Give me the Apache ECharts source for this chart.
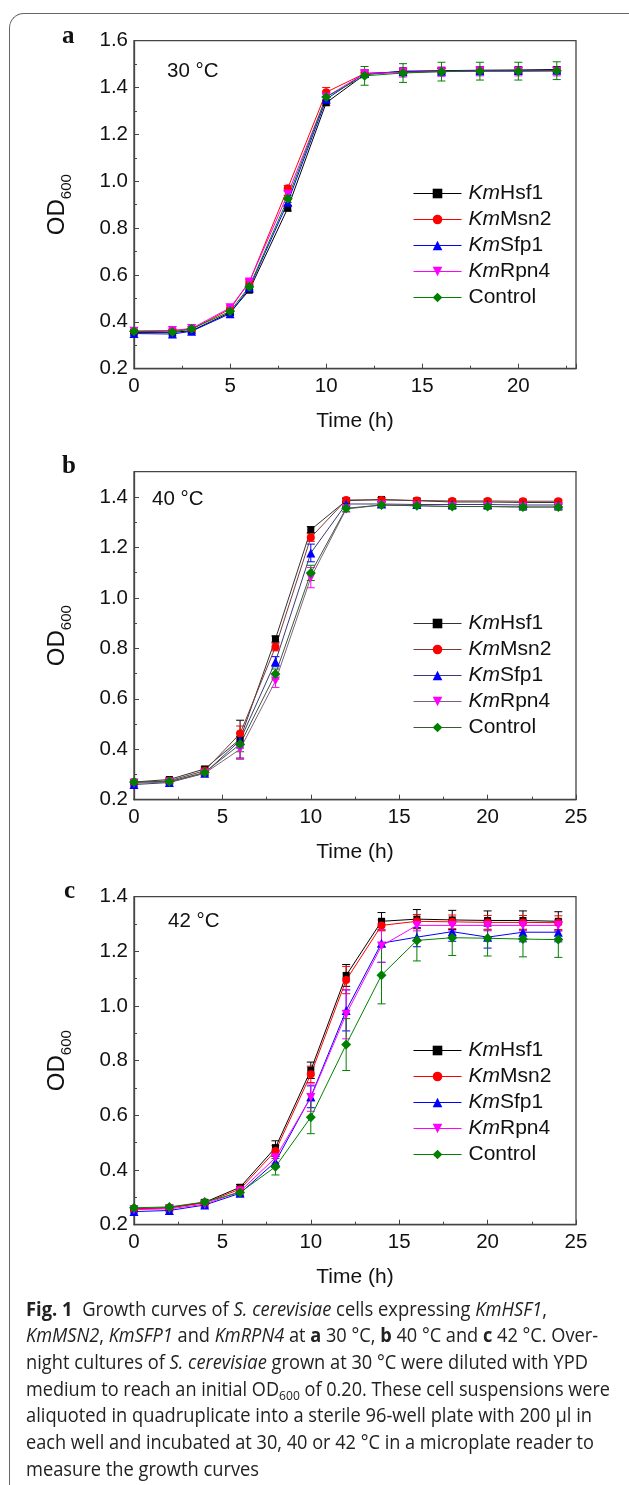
<!DOCTYPE html>
<html>
<head>
<meta charset="utf-8">
<script src="https://cdn.jsdelivr.net/npm/echarts@6/dist/echarts.min.js"></script>
<style>
  html, body { margin: 0; padding: 0; background: #fff; }
  #page { position: relative; width: 629px; height: 1485px; overflow: hidden; }
  #frame { position: absolute; left: 9px; top: 13px; width: 700px; height: 1520px;
    border-left: 1.5px solid #666; border-top: 1.5px solid #666; border-top-left-radius: 15px; }
  #chart { position: absolute; left: 0; top: 0; width: 629px; height: 1485px; }
  .cap { position: absolute; left: 26px; height: 27px; line-height: 27px; white-space: nowrap;
    font-family: "Open Sans", "Noto Sans", sans-serif; font-size: 19.5px; color: #222;
    transform-origin: 0 50%; }
  .cap b { font-weight: 700; }
  .cap sub { font-size: 13px; vertical-align: -4px; line-height: 0; }
</style>
</head>
<body>
<div id="page">
  <div id="frame"></div>
  <div id="chart"></div>
  <div class="cap" data-w="521"><b>Fig. 1</b>&nbsp; Growth curves of <i>S. cerevisiae</i> cells expressing <i>KmHSF1</i>,</div>
  <div class="cap" data-w="572"><i>KmMSN2</i>, <i>KmSFP1</i> and <i>KmRPN4</i> at <b>a</b> 30 °C, <b>b</b> 40 °C and <b>c</b> 42 °C. Over-</div>
  <div class="cap" data-w="562">night cultures of <i>S. cerevisiae</i> grown at 30 °C were diluted with YPD</div>
  <div class="cap" data-w="584">medium to reach an initial OD<sub>600</sub> of 0.20. These cell suspensions were</div>
  <div class="cap" data-w="566">aliquoted in quadruplicate into a sterile 96-well plate with 200 µl in</div>
  <div class="cap" data-w="568">each well and incubated at 30, 40 or 42 °C in a microplate reader to</div>
  <div class="cap" data-w="233">measure the growth curves</div>
</div>
<script>
// ---- data ----
const names = ["KmHsf1", "KmMsn2", "KmSfp1", "KmRpn4", "Control"];
const temps = ["30 °C", "40 °C", "42 °C"];
const letters = ["a", "b", "c"];

const timeA = [0, 2, 3, 5, 6, 8, 10, 12, 14, 16, 18, 20, 22];
const hsf1A = [0.355, 0.355, 0.362, 0.440, 0.535, 0.885, 1.335, 1.455, 1.470, 1.472, 1.474, 1.475, 1.477];
const msn2A = [0.360, 0.363, 0.368, 0.455, 0.570, 0.970, 1.380, 1.460, 1.465, 1.470, 1.472, 1.472, 1.473];
const sfp1A = [0.350, 0.348, 0.360, 0.435, 0.545, 0.910, 1.350, 1.460, 1.468, 1.470, 1.472, 1.473, 1.474];
const rpn4A = [0.360, 0.363, 0.372, 0.460, 0.570, 0.945, 1.360, 1.460, 1.465, 1.468, 1.470, 1.470, 1.470];
const ctrlA = [0.360, 0.357, 0.370, 0.445, 0.550, 0.925, 1.360, 1.450, 1.462, 1.468, 1.470, 1.470, 1.472];
const errHsf1A = [0.005, 0.005, 0.006, 0.008, 0.010, 0.012, 0.010, 0.008, 0.010, 0.010, 0.010, 0.010, 0.010];
const errMsn2A = [0.005, 0.006, 0.006, 0.008, 0.010, 0.012, 0.020, 0.010, 0.010, 0.010, 0.010, 0.010, 0.010];
const errSfp1A = [0.006, 0.008, 0.010, 0.008, 0.010, 0.015, 0.010, 0.012, 0.012, 0.012, 0.012, 0.012, 0.012];
const errRpn4A = [0.005, 0.006, 0.008, 0.010, 0.012, 0.015, 0.012, 0.015, 0.020, 0.020, 0.020, 0.020, 0.020];
const errCtrlA = [0.006, 0.008, 0.010, 0.010, 0.012, 0.015, 0.025, 0.040, 0.040, 0.040, 0.038, 0.038, 0.038];

const timeB = [0, 2, 4, 6, 8, 10, 12, 14, 16, 18, 20, 22, 24];
const hsf1B = [0.270, 0.280, 0.322, 0.440, 0.837, 1.270, 1.385, 1.390, 1.385, 1.380, 1.380, 1.378, 1.378];
const msn2B = [0.268, 0.275, 0.315, 0.462, 0.805, 1.239, 1.388, 1.388, 1.386, 1.384, 1.384, 1.383, 1.383];
const sfp1B = [0.260, 0.268, 0.305, 0.435, 0.747, 1.178, 1.372, 1.372, 1.370, 1.370, 1.370, 1.368, 1.368];
const rpn4B = [0.265, 0.270, 0.305, 0.400, 0.670, 1.080, 1.352, 1.368, 1.365, 1.362, 1.362, 1.360, 1.360];
const ctrlB = [0.270, 0.272, 0.308, 0.420, 0.698, 1.099, 1.355, 1.368, 1.365, 1.362, 1.362, 1.360, 1.360];
const errHsf1B = [0.008, 0.006, 0.008, 0.075, 0.012, 0.012, 0.008, 0.008, 0.008, 0.008, 0.008, 0.008, 0.008];
const errMsn2B = [0.006, 0.006, 0.008, 0.030, 0.015, 0.015, 0.008, 0.008, 0.008, 0.008, 0.008, 0.008, 0.008];
const errSfp1B = [0.006, 0.006, 0.008, 0.030, 0.020, 0.035, 0.010, 0.010, 0.010, 0.010, 0.010, 0.010, 0.010];
const errRpn4B = [0.006, 0.006, 0.008, 0.040, 0.025, 0.040, 0.012, 0.010, 0.010, 0.010, 0.010, 0.012, 0.012];
const errCtrlB = [0.006, 0.006, 0.008, 0.030, 0.020, 0.030, 0.012, 0.010, 0.010, 0.010, 0.010, 0.012, 0.012];

const timeC = [0, 2, 4, 6, 8, 10, 12, 14, 16, 18, 20, 22, 24];
const hsf1C = [0.258, 0.262, 0.282, 0.337, 0.482, 0.765, 1.112, 1.310, 1.318, 1.315, 1.313, 1.313, 1.310];
const msn2C = [0.258, 0.262, 0.280, 0.330, 0.470, 0.750, 1.095, 1.295, 1.310, 1.308, 1.306, 1.306, 1.305];
const sfp1C = [0.248, 0.252, 0.272, 0.315, 0.430, 0.668, 0.984, 1.230, 1.252, 1.272, 1.252, 1.270, 1.270];
const rpn4C = [0.255, 0.258, 0.275, 0.322, 0.445, 0.665, 0.970, 1.220, 1.295, 1.295, 1.295, 1.295, 1.295];
const ctrlC = [0.262, 0.265, 0.283, 0.318, 0.412, 0.593, 0.859, 1.113, 1.240, 1.250, 1.248, 1.245, 1.243];
const errHsf1C = [0.005, 0.005, 0.008, 0.010, 0.025, 0.030, 0.040, 0.032, 0.035, 0.035, 0.035, 0.035, 0.035];
const errMsn2C = [0.005, 0.005, 0.008, 0.010, 0.020, 0.030, 0.050, 0.020, 0.025, 0.025, 0.025, 0.025, 0.025];
const errSfp1C = [0.005, 0.005, 0.008, 0.010, 0.020, 0.040, 0.075, 0.070, 0.035, 0.035, 0.040, 0.035, 0.035];
const errRpn4C = [0.005, 0.005, 0.008, 0.012, 0.020, 0.050, 0.090, 0.060, 0.020, 0.020, 0.020, 0.020, 0.020];
const errCtrlC = [0.005, 0.005, 0.008, 0.012, 0.030, 0.060, 0.095, 0.105, 0.075, 0.065, 0.065, 0.065, 0.065];

const xMax = [23, 25, 25];
const yMax = [1.6, 1.5, 1.4];

// ---- styles ----
const colors = ["#000000", "#ff0000", "#0000ff", "#ff00ff", "#008000"];
const linesB = ["#333333", "#7a3a3a", "#3a3a7a", "#806080", "#3a5a3a"];
const symbols = ["rect", "circle", "triangle", "path://M0,0 L10,0 L5,9 Z", "diamond"];
const symbolSizes = [7, 8, 9, 9, 10];
const FONT = '"Liberation Sans", Arial, sans-serif';
const gridTops = [40.7, 471.7, 896.7];

const panels = [
  { t: timeA, y: [hsf1A, msn2A, sfp1A, rpn4A, ctrlA], e: [errHsf1A, errMsn2A, errSfp1A, errRpn4A, errCtrlA] },
  { t: timeB, y: [hsf1B, msn2B, sfp1B, rpn4B, ctrlB], e: [errHsf1B, errMsn2B, errSfp1B, errRpn4B, errCtrlB] },
  { t: timeC, y: [hsf1C, msn2C, sfp1C, rpn4C, ctrlC], e: [errHsf1C, errMsn2C, errSfp1C, errRpn4C, errCtrlC] },
];

function errorBars(color) {
  return function (params, api) {
    const x = api.value(0);
    const top = api.coord([x, api.value(2)]);
    const bot = api.coord([x, api.value(1)]);
    const w = 4;
    const st = { stroke: color, lineWidth: 1 };
    return {
      type: "group",
      children: [
        { type: "line", shape: { x1: top[0], y1: top[1], x2: bot[0], y2: bot[1] }, style: st },
        { type: "line", shape: { x1: top[0] - w, y1: top[1], x2: top[0] + w, y2: top[1] }, style: st },
        { type: "line", shape: { x1: bot[0] - w, y1: bot[1], x2: bot[0] + w, y2: bot[1] }, style: st },
      ],
    };
  };
}

const grids = [], xAxes = [], yAxes = [], series = [], legends = [], graphics = [];

panels.forEach((p, k) => {
  grids.push({ left: 134, top: gridTops[k], width: 442, height: 328, show: true, borderColor: "#444", borderWidth: 1.3 });
  xAxes.push({
    type: "value", gridIndex: k, min: 0, max: xMax[k], interval: 5,
    name: "Time (h)", nameLocation: "middle", nameGap: 42,
    nameTextStyle: { fontFamily: FONT, fontSize: 21, color: "#111" },
    axisLine: { lineStyle: { color: "#444", width: 1.3 } },
    axisTick: { inside: true, length: 5, lineStyle: { color: "#444" } },
    minorTick: { show: true, splitNumber: 2, length: 3, lineStyle: { color: "#444" } },
    splitLine: { show: false },
    axisLabel: { fontFamily: FONT, fontSize: 20.5, color: "#111", margin: 7, showMaxLabel: k > 0 },
  });
  yAxes.push({
    type: "value", gridIndex: k, min: 0.2, max: yMax[k], interval: 0.2,
    name: "{b|OD}{s|600}", nameLocation: "middle", nameGap: 60,
    nameTextStyle: {
      fontFamily: FONT, color: "#111",
      rich: {
        b: { fontFamily: FONT, fontSize: 24, color: "#111", verticalAlign: "bottom", lineHeight: 24, padding: [0, 0, 5, 0] },
        s: { fontFamily: FONT, fontSize: 15, color: "#111", verticalAlign: "bottom", lineHeight: 15 },
      },
    },
    axisLine: { lineStyle: { color: "#444", width: 1.3 } },
    axisTick: { inside: true, length: 5, lineStyle: { color: "#444" } },
    minorTick: { show: true, splitNumber: 2, length: 3, lineStyle: { color: "#444" } },
    splitLine: { show: false },
    axisLabel: {
      fontFamily: FONT, fontSize: 20.5, color: "#111", margin: 6, showMaxLabel: k !== 1,
      formatter: (v) => v.toFixed(1),
    },
  });

  names.forEach((nm, i) => {
    const pts = p.t.map((t, j) => [t, p.y[i][j]]);
    const bars = p.t.map((t, j) => [t, p.y[i][j] - p.e[i][j], p.y[i][j] + p.e[i][j]]);
    series.push({
      type: "custom", xAxisIndex: k, yAxisIndex: k, z: 2,
      renderItem: errorBars(colors[i]), encode: { x: 0, y: [1, 2] }, data: bars, silent: true,
    });
    series.push({
      type: "line", name: nm, xAxisIndex: k, yAxisIndex: k, z: 3,
      data: pts, symbol: symbols[i], symbolSize: symbolSizes[i],
      lineStyle: { color: k === 1 ? linesB[i] : colors[i], width: 1 },
      itemStyle: { color: colors[i] },
    });
  });

  const legendTops = [178, 608, 1035];
  legends.push({
    left: 408, top: legendTops[k], orient: "vertical", itemWidth: 48, itemHeight: 12, itemGap: 5,
    data: names.map((nm, i) => ({
      name: nm,
      lineStyle: { color: k === 1 ? linesB[i] : colors[i], width: 1 },
    })),
    selectedMode: false,
    formatter: (nm) => (nm.indexOf("Km") === 0 ? "{i|Km}{r|" + nm.slice(2) + "}" : "{r|" + nm + "}"),
    textStyle: {
      fontFamily: FONT, fontSize: 21, color: "#111", lineHeight: 21, padding: [0, 0, 0, 2],
      rich: {
        i: { fontFamily: FONT, fontSize: 21, fontStyle: "italic", color: "#111", lineHeight: 21 },
        r: { fontFamily: FONT, fontSize: 21, color: "#111", lineHeight: 21 },
      },
    },
  });
});

// panel letters and temperature labels
const letterPos = [[62, 37], [62, 467], [64, 892]];
const tempPos = [[167, 71], [152, 499], [168, 921]];
letters.forEach((l, k) => {
  graphics.push({
    type: "text", x: letterPos[k][0], y: letterPos[k][1],
    style: { text: l, font: 'bold 25px "Liberation Serif", serif', fill: "#111", verticalAlign: "middle" },
  });
  graphics.push({
    type: "text", x: tempPos[k][0], y: tempPos[k][1],
    style: { text: temps[k], font: '20.5px ' + FONT, fill: "#111", verticalAlign: "middle" },
  });
});

const chart = echarts.init(document.getElementById("chart"), null, { renderer: "canvas" });
chart.setOption({
  animation: false,
  grid: grids,
  xAxis: xAxes,
  yAxis: yAxes,
  legend: legends,
  series: series,
  graphic: graphics,
});

// caption lines, squeezed to the measured line widths
document.querySelectorAll(".cap").forEach((el, k) => {
  el.style.top = (1294.5 + k * 26.7) + "px";
  const target = parseFloat(el.dataset.w);
  const natural = el.getBoundingClientRect().width;
  el.style.transform = "scaleX(" + (target / natural).toFixed(4) + ")";
});
</script>
</body>
</html>
